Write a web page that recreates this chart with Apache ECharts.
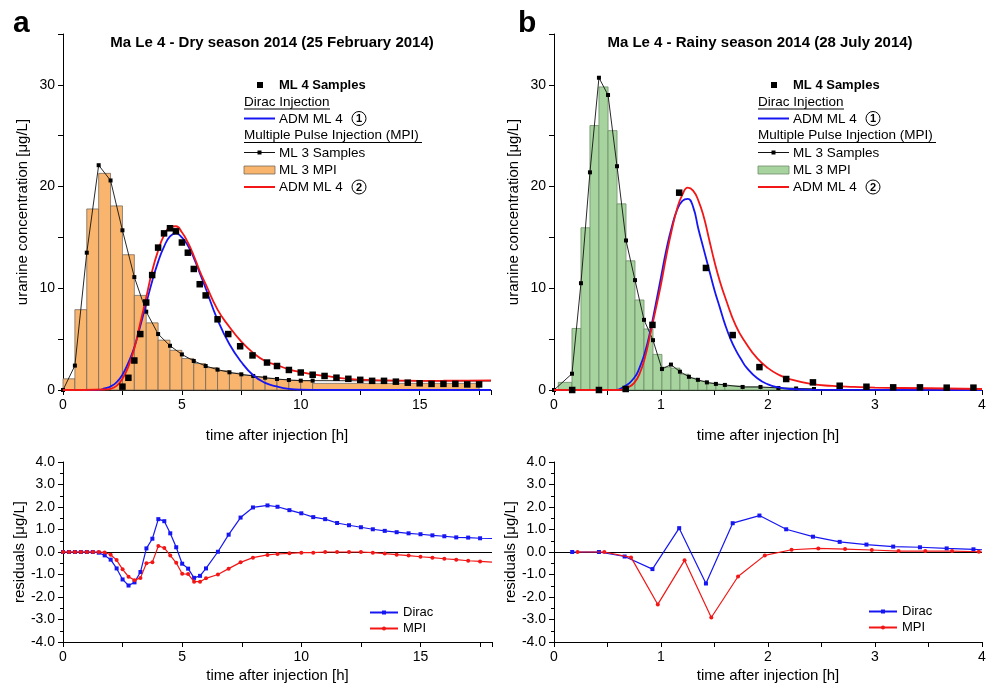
<!DOCTYPE html>
<html><head><meta charset="utf-8">
<script src="https://cdn.jsdelivr.net/npm/echarts@6/dist/echarts.min.js"></script>
<style>html,body{margin:0;padding:0;background:#fff}#c{width:990px;height:685px}</style>
</head><body><div id="c"></div>
<script>
// ---------------- DATA ----------------
// Panel a: dry season
const dryML3T = [0,0.5,1,1.5,2,2.5,3,3.5,4,4.5,5,5.5,6,6.5,7,7.5,8,8.5,9,9.5,10,10.5,18];
const dryML3Y = [0,2.4,13.5,22.1,20.6,15.7,11.1,7.7,5.5,4.35,3.5,2.85,2.36,2.0,1.74,1.54,1.38,1.21,1.08,0.98,0.92,0.92,0.88];
const dryBarStart = [0,0.5,1,1.5,2,2.5,3,3.5,4,4.5,5,5.5,6,6.5,7,7.5,8,8.5,9,9.5,10,10.5];
const dryBarEnd   = [0.5,1,1.5,2,2.5,3,3.5,4,4.5,5,5.5,6,6.5,7,7.5,8,8.5,9,9.5,10,10.5,17.5];
const dryBarVal   = [1.1,7.9,17.8,21.3,18.1,13.3,9.3,6.6,4.9,3.9,3.1,2.6,2.2,1.9,1.65,1.45,1.3,1.15,1.03,0.95,0.92,0.65];
const dryML4T = [2.5,2.75,3,3.25,3.5,3.75,4,4.25,4.5,4.75,5,5.25,5.5,5.75,6,6.5,6.95,7.45,7.97,8.58,9,9.5,10,10.5,11,11.5,12,12.5,13,13.5,14,14.5,15,15.5,16,16.5,17,17.5];
const dryML4Y = [0.33,1.2,2.9,5.5,8.6,11.3,14.0,15.4,15.9,15.6,14.5,13.5,11.9,10.4,9.3,6.95,5.5,4.3,3.4,2.7,2.36,1.97,1.72,1.5,1.38,1.21,1.1,1.0,0.9,0.9,0.82,0.72,0.66,0.6,0.6,0.6,0.55,0.55];
const dryDiracT = [0,1.5,1.75,2,2.25,2.5,2.75,3,3.25,3.5,3.75,4,4.25,4.5,4.75,5,5.25,5.5,5.75,6,6.5,7,7.5,8,8.5,9,9.5,10,11,18];
const dryDiracY = [0,0,0.15,0.35,0.75,1.5,2.7,4.2,6.3,8.5,10.7,12.6,14.1,15.1,15.4,15.0,14.2,13.0,11.5,10.0,6.9,4.5,2.75,1.45,0.7,0.35,0.12,0.03,0,0];
const dryMpiT = [0,1.75,2,2.25,2.5,2.75,3,3.25,3.5,3.75,4,4.25,4.5,4.75,5,5.25,5.5,5.75,6,6.5,7,7.5,8,8.5,9,9.5,10,10.5,11,12,13,14,15,16,17,18];
const dryMpiY = [0,0.05,0.12,0.4,1.1,2.3,4.1,6.6,9.1,11.7,13.7,15.2,16.0,16.1,15.5,14.5,13.2,11.7,10.4,7.9,6.2,4.75,3.65,2.85,2.45,2.03,1.75,1.53,1.38,1.1,0.97,0.93,0.9,0.91,0.93,0.95];
const dryResT = [0,0.25,0.5,0.75,1,1.25,1.5,1.75,2,2.25,2.5,2.75,3,3.25,3.5,3.75,4,4.25,4.5,4.75,5,5.25,5.5,5.75,6,6.5,6.95,7.45,7.97,8.58,9,9.5,10,10.5,11,11.5,12,12.5,13,13.5,14,14.5,15,15.5,16,16.5,17,17.5,18];
const dryResDirac = [0,0,0,0,0,0,-0.03,-0.15,-0.34,-0.73,-1.22,-1.49,-1.35,-0.89,0.16,0.59,1.46,1.37,0.83,0.21,-0.52,-0.74,-1.15,-1.06,-0.73,0.01,0.77,1.53,1.98,2.07,2.01,1.86,1.72,1.55,1.46,1.29,1.19,1.10,1.01,0.94,0.88,0.83,0.79,0.74,0.70,0.65,0.64,0.61,0.6];
const dryResMpi = [0,0,0,0,0,0,0,-0.02,-0.12,-0.36,-0.77,-1.1,-1.25,-1.15,-0.5,-0.45,0.27,0.18,-0.15,-0.48,-0.97,-0.98,-1.32,-1.32,-1.17,-1.0,-0.74,-0.46,-0.25,-0.13,-0.09,-0.06,-0.03,-0.03,0,0,0,0,-0.03,-0.07,-0.12,-0.16,-0.21,-0.25,-0.3,-0.34,-0.39,-0.42,-0.45];

// Panel b: rainy season
const rainyML3T = [0,0.168,0.252,0.336,0.42,0.505,0.589,0.673,0.757,0.841,0.925,1.009,1.093,1.177,1.261,1.345,1.429,1.513,1.597,1.763,1.93,2.097,2.263,2.43];
const rainyML3Y = [0,1.6,10.5,21.4,30.7,29.0,22.0,14.7,10.8,6.9,4.9,2.06,2.5,1.8,1.3,1.0,0.75,0.6,0.5,0.3,0.3,0.2,0.15,0.1];
const rainyBarStart = [0.04,0.168,0.252,0.336,0.42,0.505,0.589,0.673,0.757,0.841,0.925,1.009,1.093,1.177,1.261,1.345,1.429,1.513,1.597,1.763,1.93,2.097,2.263];
const rainyBarEnd   = [0.168,0.252,0.336,0.42,0.505,0.589,0.673,0.757,0.841,0.925,1.009,1.093,1.177,1.261,1.345,1.429,1.513,1.597,1.763,1.93,2.097,2.263,2.43];
const rainyBarVal   = [0.75,6.05,15.95,26.0,29.8,25.5,18.3,12.7,8.85,6.0,3.5,2.25,2.15,1.55,1.15,0.87,0.67,0.55,0.4,0.3,0.25,0.18,0.12];
const rainyML4T = [0.17,0.42,0.67,0.92,1.17,1.42,1.67,1.92,2.17,2.42,2.67,2.92,3.17,3.42,3.67,3.92];
const rainyML4Y = [0,0,0.1,6.4,19.4,12.0,5.4,2.25,1.08,0.75,0.42,0.32,0.26,0.26,0.23,0.23];
const rainyDiracT = [0,0.55,0.65,0.75,0.8,0.85,0.9,0.95,1.0,1.05,1.1,1.15,1.2,1.25,1.3,1.35,1.4,1.45,1.5,1.55,1.6,1.65,1.7,1.75,1.8,1.9,2.0,2.1,2.2,2.4,4.0];
const rainyDiracY = [0,0,0.3,1.2,2.2,3.7,5.8,8.4,11.1,13.8,16.0,17.7,18.6,18.8,18.0,15.8,13.8,11.8,9.8,8.1,6.4,5.0,3.9,3.0,2.2,1.15,0.55,0.25,0.1,0.02,0];
const rainyMpiT = [0,0.6,0.7,0.75,0.8,0.85,0.9,0.95,1.0,1.05,1.1,1.15,1.2,1.25,1.3,1.35,1.4,1.45,1.5,1.55,1.6,1.7,1.8,1.9,2.0,2.1,2.2,2.4,2.6,2.8,3.0,3.5,4.0];
const rainyMpiY = [0,0,0.3,0.7,1.6,3.2,5.5,7.9,10.4,13.2,15.7,17.8,19.2,19.9,19.6,18.6,17.0,14.8,12.6,10.7,9.1,6.3,4.5,3.1,2.15,1.5,1.08,0.6,0.4,0.3,0.23,0.17,0.1];
const rainyResDiracT = [0.17,0.42,0.66,0.92,1.17,1.42,1.67,1.92,2.17,2.42,2.67,2.92,3.17,3.42,3.67,3.92,4.0];
const rainyResDirac  = [0,0,-0.2,-0.76,1.06,-1.4,1.28,1.62,1.01,0.68,0.45,0.33,0.24,0.21,0.16,0.12,0.1];
const rainyResMpiT = [0.22,0.47,0.72,0.97,1.22,1.47,1.72,1.97,2.22,2.47,2.72,2.97,3.22,3.47,3.72,3.97,4.0];
const rainyResMpi  = [0,0,-0.24,-2.33,-0.37,-2.91,-1.09,-0.15,0.1,0.16,0.13,0.09,0.04,0.04,0.04,0.01,0.0];

// ---------------- STYLE ----------------
const FONT = "'Liberation Sans', Arial, Helvetica, sans-serif";
const BLUE = '#1616f2', RED = '#f21616';
const ORANGE = '#f9b56d', GREEN = '#a7d39e';

function pts(t, y, lastNoSymbol){
  return t.map((v,i)=> (lastNoSymbol && i===t.length-1) ? {value:[v,y[i]], symbol:'none'} : [v,y[i]]);
}
function barRows(s,e,v){ return s.map((a,i)=>[a,e[i],v[i]]); }
function barRender(fill, stroke){
  return function(params, api){
    const a = api.coord([api.value(0), api.value(2)]);
    const b = api.coord([api.value(1), 0]);
    return {type:'rect', shape:{x:a[0], y:a[1], width:b[0]-a[0], height:b[1]-a[1]},
      style:{fill:fill, stroke:stroke, lineWidth:1}};
  };
}
const axisCommon = {
  axisLine:{show:true, onZero:false, lineStyle:{color:'#000', width:1}},
  axisTick:{show:true, inside:false, length:5, lineStyle:{color:'#000', width:1}},
  splitLine:{show:false},
  nameTextStyle:{fontFamily:FONT, fontSize:15, color:'#000'},
  nameLocation:'middle'
};
function xAxis(gi, max, interval, every, gap){
  return Object.assign({}, axisCommon, {
    gridIndex:gi, type:'value', min:0, max:max, interval:interval,
    name:'time after injection [h]', nameGap:gap,
    axisLabel:{fontFamily:FONT, fontSize:14, color:'#000', margin:8,
      formatter:v => (Math.abs(v/every - Math.round(v/every))<1e-6 ? String(v) : '')}
  });
}
function yTop(gi){
  return Object.assign({}, axisCommon, {
    gridIndex:gi, type:'value', min:0, max:35, interval:5,
    name:'uranine concentration [μg/L]', nameGap:33,
    axisLabel:{fontFamily:FONT, fontSize:14, color:'#000', margin:8,
      formatter:v => (v%10===0 ? String(v) : '')}
  });
}
function yRes(gi){
  return Object.assign({}, axisCommon, {
    gridIndex:gi, type:'value', min:-4, max:4, interval:1,
    name:'residuals [μg/L]', nameGap:34,
    minorTick:{show:true, splitNumber:2, length:3, lineStyle:{color:'#000'}},
    axisLabel:{fontFamily:FONT, fontSize:14, color:'#000', margin:8, formatter:v => v.toFixed(1)}
  });
}

function topSeries(xi, ml3T, ml3Y, bS, bE, bV, fill, stroke, ml4T, ml4Y, dT, dY, mT, mY, tailLine){
  return [
    {type:'custom', name:'bars'+xi, xAxisIndex:xi, yAxisIndex:xi, renderItem:barRender(fill, stroke),
      encode:{x:[0,1], y:2}, data:barRows(bS,bE,bV), z:1, silent:true},
    {type:'line', name:'ml3'+xi, xAxisIndex:xi, yAxisIndex:xi, data:pts(ml3T, ml3Y, tailLine),
      symbol:'rect', symbolSize:4, showSymbol:true, itemStyle:{color:'#000', opacity:1},
      lineStyle:{color:'#111', width:0.9}, z:2, silent:true},
    {type:'line', name:'dirac'+xi, xAxisIndex:xi, yAxisIndex:xi, data:pts(dT,dY), smooth:0.5,
      showSymbol:false, lineStyle:{color:BLUE, width:1.8}, z:3, silent:true},
    {type:'line', name:'mpi'+xi, xAxisIndex:xi, yAxisIndex:xi, data:pts(mT,mY), smooth:0.5,
      showSymbol:false, lineStyle:{color:RED, width:1.8}, z:4, silent:true},
    {type:'scatter', name:'ml4'+xi, xAxisIndex:xi, yAxisIndex:xi, data:pts(ml4T, ml4Y),
      symbol:'rect', symbolSize:6.5, itemStyle:{color:'#000', opacity:1}, z:5, silent:true}
  ];
}
function resSeries(xi, dT, dV, mT, mV){
  return [
    {type:'line', name:'Dirac', xAxisIndex:xi, yAxisIndex:xi, data:pts(dT,dV,true),
      symbol:'rect', symbolSize:4, itemStyle:{color:BLUE}, lineStyle:{color:BLUE, width:1.2}, z:3, silent:true,
      markLine:{silent:true, symbol:['none','none'], label:{show:false}, lineStyle:{color:'#000', type:'solid', width:1},
        data:[{yAxis:0}], z:1}},
    {type:'line', name:'MPI', xAxisIndex:xi, yAxisIndex:xi, data:pts(mT,mV,true),
      symbol:'circle', symbolSize:4, itemStyle:{color:RED}, lineStyle:{color:RED, width:1.2}, z:4, silent:true}
  ];
}

function txt(x, y, text, size, bold, align){
  return {type:'text', x:x, y:y, z:100, silent:true,
    style:{text:text, fill:'#000', fontSize:size, fontFamily:FONT, fontWeight:bold?'bold':'normal',
      align:align||'left', verticalAlign:'middle'}};
}
function hline(x1, x2, y, color, w){
  return {type:'line', z:100, silent:true, shape:{x1:x1, y1:y, x2:x2, y2:y}, style:{stroke:color, lineWidth:w}};
}
function circled(cx, cy, n){
  return [
    {type:'circle', z:100, silent:true, shape:{cx:cx, cy:cy, r:7}, style:{fill:'#fff', stroke:'#000', lineWidth:1}},
    {type:'text', x:cx, y:cy+0.5, z:101, silent:true, style:{text:n, fill:'#000', fontSize:11, fontWeight:'bold', fontFamily:FONT, align:'center', verticalAlign:'middle'}}
  ];
}
function legendBlock(x0, fill, stroke){
  const t = x0 + 35;
  return [].concat(
    [{type:'rect', z:100, silent:true, shape:{x:x0+13, y:82, width:6, height:6}, style:{fill:'#000'}},
     txt(t, 85.5, 'ML 4 Samples', 13, true),
     txt(x0, 102, 'Dirac Injection', 13.5, false),
     hline(x0, x0+86, 109, '#000', 1),
     hline(x0, x0+31, 118.5, BLUE, 2),
     txt(t, 119, 'ADM ML 4', 13.5, false)],
    circled(x0+115, 118.5, '1'),
    [txt(x0, 135.5, 'Multiple Pulse Injection (MPI)', 13.5, false),
     hline(x0, x0+178, 142.5, '#000', 1),
     hline(x0, x0+31, 152.5, '#111', 1),
     {type:'rect', z:100, silent:true, shape:{x:x0+13.5, y:150.5, width:4, height:4}, style:{fill:'#000'}},
     txt(t, 153, 'ML 3 Samples', 13.5, false),
     {type:'rect', z:100, silent:true, shape:{x:x0, y:166, width:31, height:8}, style:{fill:fill, stroke:stroke, lineWidth:1}},
     txt(t, 170, 'ML 3 MPI', 13.5, false),
     hline(x0, x0+31, 187, RED, 2),
     txt(t, 187.5, 'ADM ML 4', 13.5, false)],
    circled(x0+115, 187, '2')
  );
}

const chart = echarts.init(document.getElementById('c'), null, {renderer:'canvas'});
const legendCommon = {orient:'vertical', padding:0, itemGap:3, itemWidth:28, itemHeight:5, selectedMode:false,
  data:['Dirac','MPI'], textStyle:{fontFamily:FONT, fontSize:13, color:'#000'}};
const option = {
  backgroundColor:'#fff',
  animation:false,
  grid:[
    {left:63, top:34, width:428, height:356},
    {left:554, top:34, width:428, height:356},
    {left:63, top:462, width:429, height:180},
    {left:554, top:462, width:428, height:180}
  ],
  xAxis:[xAxis(0,18,2.5,5,38), xAxis(1,4,0.5,1,38), xAxis(2,18,2.5,5,26), xAxis(3,4,0.5,1,26)],
  yAxis:[yTop(0), yTop(1), yRes(2), yRes(3)],
  legend:[
    Object.assign({left:369, top:606}, legendCommon),
    Object.assign({left:868, top:605}, legendCommon)
  ],
  series:[].concat(
    topSeries(0, dryML3T, dryML3Y, dryBarStart, dryBarEnd, dryBarVal, ORANGE, 'rgba(110,100,90,0.75)',
      dryML4T, dryML4Y, dryDiracT, dryDiracY, dryMpiT, dryMpiY, true),
    topSeries(1, rainyML3T, rainyML3Y, rainyBarStart, rainyBarEnd, rainyBarVal, GREEN, 'rgba(110,140,105,0.8)',
      rainyML4T, rainyML4Y, rainyDiracT, rainyDiracY, rainyMpiT, rainyMpiY, false),
    resSeries(2, dryResT, dryResDirac, dryResT, dryResMpi),
    resSeries(3, rainyResDiracT, rainyResDirac, rainyResMpiT, rainyResMpi)
  ),
  graphic:[].concat(
    [txt(13, 24, 'a', 30, true), txt(518, 24, 'b', 30, true),
     txt(272, 43, 'Ma Le 4 - Dry season 2014 (25 February 2014)', 15, true, 'center'),
     txt(760, 43, 'Ma Le 4 - Rainy season 2014 (28 July 2014)', 15, true, 'center')],
    legendBlock(244, ORANGE, 'rgba(110,100,90,0.75)'),
    legendBlock(758, GREEN, 'rgba(110,140,105,0.8)')
  )
};
chart.setOption(option);
</script>
</body></html>
